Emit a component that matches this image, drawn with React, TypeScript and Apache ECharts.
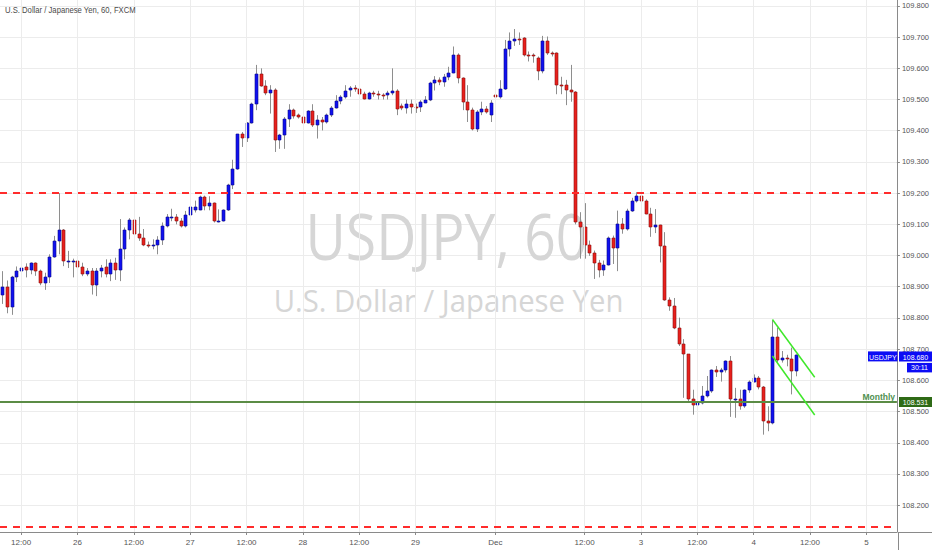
import React, { useEffect, useRef } from "react";
import * as echarts from "echarts";

// ---- Candle data (USDJPY, 60 min, FXCM) ----
const OPEN = [
  108.875, 108.900, 108.835, 108.930, 108.950, 108.963, 108.953, 108.975, 108.950, 108.912,
  108.932, 108.995, 109.047, 109.082, 108.980, 108.982, 108.984, 108.963, 108.940, 108.952,
  108.907, 108.952, 108.962, 108.940, 108.977, 108.955, 109.020, 109.082, 109.114, 109.070,
  109.055, 109.035, 109.030, 109.034, 109.050, 109.095, 109.124, 109.124, 109.111, 109.095,
  109.130, 109.146, 109.146, 109.187, 109.160, 109.167, 109.111, 109.111, 109.145, 109.227,
  109.278, 109.388, 109.378, 109.425, 109.487, 109.582, 109.543, 109.522, 109.532, 109.371,
  109.385, 109.439, 109.468, 109.450, 109.445, 109.425, 109.464, 109.418,
  109.436, 109.428, 109.450, 109.474, 109.495, 109.509, 109.530, 109.536, 109.535, 109.517,
  109.503, 109.522, 109.518, 109.516, 109.514, 109.522, 109.528, 109.478, 109.474, 109.485,
  109.477, 109.476, 109.490, 109.497, 109.552, 109.562, 109.557, 109.571, 109.586, 109.643,
  109.568, 109.493, 109.468, 109.404, 109.460, 109.471, 109.450, 109.514, 109.509, 109.533,
  109.661, 109.689, 109.694, 109.697, 109.643, 109.642, 109.632, 109.593, 109.689, 109.648,
  109.648, 109.546, 109.545, 109.530,
  109.525, 109.107, 109.093, 109.035, 109.007, 108.975, 108.954, 108.971, 109.057, 109.024,
  109.102, 109.084, 109.144, 109.174, 109.190, 109.174, 109.134, 109.091, 109.097, 109.029,
  108.857, 108.839, 108.769, 108.716, 108.684, 108.541, 108.522, 108.528, 108.550, 108.566,
  108.632, 108.628, 108.632, 108.662, 108.539, 108.541, 108.517, 108.568, 108.596, 108.609,
  108.579, 108.471, 108.464, 108.739, 108.664, 108.672, 108.668, 108.629,
];
const CLOSE = [
  108.900, 108.835, 108.930, 108.950, 108.960, 108.953, 108.975, 108.950, 108.912, 108.932,
  108.995, 109.047, 109.082, 108.982, 108.983, 108.984, 108.963, 108.942, 108.952, 108.907,
  108.952, 108.960, 108.940, 108.977, 108.955, 109.020, 109.082, 109.114, 109.070, 109.055,
  109.033, 109.030, 109.034, 109.050, 109.095, 109.124, 109.125, 109.111, 109.095, 109.130,
  109.154, 109.154, 109.187, 109.160, 109.167, 109.111, 109.112, 109.145, 109.227, 109.278,
  109.388, 109.378, 109.425, 109.487, 109.582, 109.543, 109.522, 109.532, 109.371, 109.385,
  109.439, 109.468, 109.447, 109.445, 109.425, 109.464, 109.418, 109.436,
  109.428, 109.450, 109.474, 109.495, 109.509, 109.528, 109.536, 109.535, 109.517, 109.503,
  109.522, 109.517, 109.516, 109.514, 109.522, 109.528, 109.471, 109.474, 109.485, 109.477,
  109.476, 109.492, 109.497, 109.552, 109.562, 109.557, 109.571, 109.586, 109.643, 109.568,
  109.493, 109.468, 109.404, 109.460, 109.471, 109.460, 109.490, 109.509, 109.533, 109.661,
  109.689, 109.694, 109.693, 109.643, 109.642, 109.640, 109.593, 109.689, 109.648, 109.645,
  109.546, 109.545, 109.530, 109.525,
  109.107, 109.093, 109.035, 109.007, 108.975, 108.954, 108.971, 109.057, 109.024, 109.102,
  109.084, 109.144, 109.174, 109.190, 109.174, 109.134, 109.091, 109.097, 109.029, 108.857,
  108.839, 108.769, 108.716, 108.684, 108.539, 108.522, 108.528, 108.550, 108.566, 108.632,
  108.628, 108.633, 108.662, 108.539, 108.541, 108.517, 108.568, 108.596, 108.609, 108.579,
  108.469, 108.464, 108.739, 108.664, 108.672, 108.671, 108.629, 108.680,
];
const HIGH = [
  108.950, 108.920, 108.935, 108.965, 108.970, 108.975, 108.978, 108.978, 108.955, 108.945,
  109.004, 109.063, 109.200, 109.085, 109.015, 108.990, 109.011, 108.977, 108.960, 108.960,
  108.960, 108.970, 108.988, 108.988, 108.993, 109.117, 109.090, 109.120, 109.138, 109.124,
  109.085, 109.045, 109.052, 109.062, 109.106, 109.133, 109.150, 109.133, 109.120, 109.143,
  109.170, 109.176, 109.192, 109.192, 109.190, 109.170, 109.148, 109.148, 109.230, 109.307,
  109.390, 109.396, 109.428, 109.490, 109.611, 109.600, 109.562, 109.546, 109.536, 109.390,
  109.444, 109.485, 109.471, 109.455, 109.450, 109.466, 109.485, 109.450,
  109.444, 109.455, 109.479, 109.514, 109.514, 109.546, 109.543, 109.546, 109.541, 109.525,
  109.525, 109.528, 109.528, 109.520, 109.528, 109.600, 109.533, 109.487, 109.500, 109.500,
  109.487, 109.498, 109.511, 109.557, 109.575, 109.571, 109.582, 109.605, 109.670, 109.648,
  109.571, 109.546, 109.474, 109.466, 109.493, 109.479, 109.498, 109.530, 109.562, 109.691,
  109.715, 109.726, 109.715, 109.700, 109.654, 109.648, 109.638, 109.704, 109.702, 109.654,
  109.651, 109.573, 109.563, 109.611,
  109.527, 109.139, 109.168, 109.048, 109.016, 108.986, 108.984, 109.061, 109.064, 109.144,
  109.120, 109.150, 109.185, 109.203, 109.198, 109.180, 109.153, 109.149, 109.099, 109.075,
  108.866, 108.864, 108.801, 108.732, 108.684, 108.570, 108.555, 108.582, 108.614, 108.635,
  108.646, 108.640, 108.664, 108.678, 108.576, 108.570, 108.571, 108.600, 108.619, 108.614,
  108.582, 108.517, 108.793, 108.769, 108.694, 108.682, 108.705, 108.683,
];
const LOW = [
  108.845, 108.815, 108.810, 108.915, 108.915, 108.930, 108.940, 108.935, 108.905, 108.890,
  108.912, 108.993, 109.004, 108.966, 108.960, 108.930, 108.950, 108.934, 108.934, 108.875,
  108.870, 108.930, 108.930, 108.918, 108.922, 108.918, 108.988, 109.052, 109.047, 109.047,
  109.030, 109.025, 109.020, 109.004, 109.034, 109.090, 109.110, 109.100, 109.090, 109.090,
  109.122, 109.138, 109.145, 109.145, 109.145, 109.106, 109.106, 109.109, 109.143, 109.213,
  109.275, 109.348, 109.364, 109.423, 109.466, 109.541, 109.514, 109.455, 109.332, 109.342,
  109.342, 109.412, 109.439, 109.439, 109.420, 109.423, 109.412, 109.375,
  109.401, 109.423, 109.444, 109.471, 109.485, 109.503, 109.509, 109.525, 109.514, 109.500,
  109.500, 109.509, 109.500, 109.500, 109.500, 109.514, 109.450, 109.466, 109.455, 109.455,
  109.457, 109.460, 109.488, 109.495, 109.529, 109.546, 109.541, 109.562, 109.584, 109.552,
  109.466, 109.428, 109.401, 109.396, 109.450, 109.455, 109.428, 109.488, 109.503, 109.531,
  109.638, 109.672, 109.675, 109.638, 109.622, 109.618, 109.562, 109.584, 109.643, 109.638,
  109.517, 109.517, 109.482, 109.493,
  109.100, 108.990, 108.990, 108.999, 108.925, 108.930, 108.935, 108.968, 108.973, 108.950,
  109.070, 109.080, 109.140, 109.170, 109.167, 109.132, 109.060, 109.072, 108.978, 108.855,
  108.823, 108.764, 108.710, 108.544, 108.528, 108.490, 108.483, 108.523, 108.545, 108.560,
  108.611, 108.596, 108.625, 108.483, 108.480, 108.506, 108.512, 108.560, 108.593, 108.571,
  108.426, 108.437, 108.459, 108.657, 108.657, 108.645, 108.555, 108.613,
];

// ---- Time axis: hourly bars, weekend gap removed ----
const SESSION_STARTS = [Date.UTC(2019, 10, 25, 8), Date.UTC(2019, 11, 1, 17)];
const SESSION_BARS = [105, 86];
const TICK_INDEX = [4, 16, 28, 40, 52, 64, 76, 88, 105, 124, 136, 148, 160, 172, 184];
const TICK_LABELS = ["12:00", "26", "12:00", "27", "12:00", "28", "12:00", "29", "Dec", "12:00", "3", "12:00", "4", "12:00", "5"];

// ---- Levels / drawings ----
const RESISTANCE = 109.2;
const LOWER_LEVEL = 108.125;
const MONTHLY = 108.531;
const LAST_PRICE = 108.68;
const COUNTDOWN = "30:11";
const CHANNEL_UPPER = [[164, 108.795], [173, 108.61]];
const CHANNEL_LOWER = [[164, 108.678], [173, 108.489]];
const Y_MIN = 108.114;
const Y_MAX = 109.819;

const TITLE = "U.S. Dollar / Japanese Yen, 60, FXCM";
const WATERMARK_1 = "USDJPY, 60";
const WATERMARK_2 = "U.S. Dollar / Japanese Yen";
const SYMBOL = "USDJPY";

const SMALL_FONT = "'Liberation Sans Narrow', 'Liberation Sans', Arial, sans-serif";

function buildCategories(): string[] {
  const out: string[] = [];
  SESSION_STARTS.forEach((start, s) => {
    for (let h = 0; h < SESSION_BARS[s]; h++) {
      const d = new Date(start + h * 3600000);
      const mm = String(d.getUTCMonth() + 1).padStart(2, "0");
      const dd = String(d.getUTCDate()).padStart(2, "0");
      const hh = String(d.getUTCHours()).padStart(2, "0");
      out.push(`${mm}-${dd} ${hh}:00`);
    }
  });
  return out;
}

function fitScale(text: string, font: string, target: number): number {
  const c = document.createElement("canvas").getContext("2d");
  if (!c) return 1;
  c.font = font;
  const w = c.measureText(text).width;
  return w > 0 ? target / w : 1;
}

const W = 932;
const H = 550;
const GRID = { left: 0, right: 34, top: 0, bottom: 18 };

export default function App() {
  const ref = useRef<HTMLDivElement>(null);

  useEffect(() => {
    if (!ref.current) return;
    const chart = echarts.init(ref.current, null, { renderer: "svg" });
    const categories = buildCategories();
    const candleData = OPEN.map((o, i) => [i, o, CLOSE[i], LOW[i], HIGH[i]]);
    const tickSet = new Set(TICK_INDEX);
    const showTick = (idx: number) => tickSet.has(idx);

    const option: any = {
      animation: false,
      backgroundColor: "#ffffff",
      grid: { ...GRID, containLabel: false },
      xAxis: {
        type: "category",
        data: categories,
        boundaryGap: true,
        axisLine: { show: true, lineStyle: { color: "#8a8a8a", width: 1 } },
        axisTick: { show: true, alignWithLabel: true, interval: showTick, length: 3, lineStyle: { color: "#8a8a8a" } },
        axisLabel: {
          interval: showTick,
          formatter: (_v: string, idx: number) => {
            const k = TICK_INDEX.indexOf(idx);
            return k >= 0 ? TICK_LABELS[k] : "";
          },
          fontSize: 8,
          color: "#555555",
          margin: 6,
          fontFamily: SMALL_FONT,
        },
        splitLine: { show: false },
      },
      yAxis: {
        type: "value",
        position: "right",
        min: Y_MIN,
        max: Y_MAX,
        splitNumber: 17,
        minInterval: 0.1,
        maxInterval: 0.1,
        axisLine: { show: true, lineStyle: { color: "#8a8a8a", width: 1 } },
        axisTick: { show: true, length: 3, lineStyle: { color: "#8a8a8a" } },
        axisLabel: {
          showMinLabel: false,
          showMaxLabel: false,
          formatter: (v: number) => v.toFixed(3),
          fontSize: 7.5,
          lineHeight: 7,
          color: "#555555",
          margin: 5,
          fontFamily: SMALL_FONT,
        },
        splitLine: { show: true, showMinLine: false, showMaxLine: false, lineStyle: { color: "#ececec", width: 1 } },
      },
      series: [
        {
          // vertical grid lines at time ticks
          type: "line",
          data: CLOSE,
          z: 1,
          silent: true,
          showSymbol: false,
          symbol: "none",
          lineStyle: { opacity: 0, width: 0 },
          markLine: {
            silent: true,
            symbol: ["none", "none"],
            label: { show: false },
            lineStyle: { color: "#ececec", width: 1, type: "solid" },
            data: TICK_INDEX.map((i) => ({ xAxis: categories[i] })),
          },
        },
        {
          type: "custom",
          z: 3,
          silent: true,
          dimensions: ["idx", "open", "close", "low", "high"],
          encode: { x: 0, y: [1, 2, 3, 4] },
          data: candleData,
          renderItem: (_params: any, api: any) => {
            const i = api.value(0);
            const o = api.value(1);
            const c = api.value(2);
            const l = api.value(3);
            const h = api.value(4);
            const pO = api.coord([i, o]);
            const pC = api.coord([i, c]);
            const pL = api.coord([i, l]);
            const pH = api.coord([i, h]);
            const cx = Math.round(pO[0]);
            const up = c >= o;
            const top = Math.round(Math.min(pO[1], pC[1]));
            const bot = Math.round(Math.max(pO[1], pC[1]));
            const bh = Math.max(bot - top, 1);
            return {
              type: "group",
              children: [
                {
                  type: "line",
                  shape: { x1: cx + 0.5, y1: pH[1], x2: cx + 0.5, y2: pL[1] },
                  style: { stroke: "#8e8e8e", lineWidth: 1 },
                },
                {
                  type: "rect",
                  shape: { x: cx - 1, y: top, width: 3, height: bh },
                  style: {
                    fill: up ? "#1010f0" : "#e8201c",
                    stroke: up ? "#0a0a8c" : "#8a1010",
                    lineWidth: 0.6,
                  },
                },
              ],
            };
          },
        },
        {
          // drawings: levels and channel
          type: "line",
          data: CLOSE,
          z: 5,
          silent: true,
          showSymbol: false,
          symbol: "none",
          lineStyle: { opacity: 0, width: 0 },
          markLine: {
            silent: true,
            symbol: ["none", "none"],
            label: { show: false },
            data: [
              { yAxis: RESISTANCE, lineStyle: { color: "#ff2b2b", width: 2, type: [7, 6] } },
              { yAxis: LOWER_LEVEL, lineStyle: { color: "#ff2b2b", width: 2, type: [7, 6] } },
              { yAxis: MONTHLY, lineStyle: { color: "#5b8c45", width: 2, type: "solid" } },
              [
                { coord: [categories[CHANNEL_UPPER[0][0]], CHANNEL_UPPER[0][1]], lineStyle: { color: "#3fe82a", width: 1.5, type: "solid" } },
                { coord: [categories[CHANNEL_UPPER[1][0]], CHANNEL_UPPER[1][1]] },
              ],
              [
                { coord: [categories[CHANNEL_LOWER[0][0]], CHANNEL_LOWER[0][1]], lineStyle: { color: "#3fe82a", width: 1.5, type: "solid" } },
                { coord: [categories[CHANNEL_LOWER[1][0]], CHANNEL_LOWER[1][1]] },
              ],
            ],
          },
        },
      ],
    };
    chart.setOption(option);

    // Overlays positioned through the axis scale
    const plotRight = W - GRID.right;
    const plotBottom = H - GRID.bottom;
    const yLast = chart.convertToPixel({ yAxisIndex: 0 }, LAST_PRICE) as number;
    const yMon = chart.convertToPixel({ yAxisIndex: 0 }, MONTHLY) as number;

    const wm1Font = "64px 'Open Sans'";
    const wm2Font = "31px 'Open Sans'";
    const titleFont = "8.5px 'Liberation Sans'";
    const wm1Scale = fitScale(WATERMARK_1, wm1Font, 282);
    const wm2Scale = fitScale(WATERMARK_2, wm2Font, 350);
    const titleScale = fitScale(TITLE, titleFont, 131);

    const badgeText = (x: number, y: number, text: string, extra: any = {}) => ({
      type: "text",
      x,
      y,
      z: 21,
      style: {
        text,
        fill: "#ffffff",
        fontSize: 7,
        lineHeight: 7,
        fontFamily: SMALL_FONT,
        align: "center",
        verticalAlign: "middle",
        ...extra,
      },
    });

    chart.setOption({
      graphic: [
        {
          type: "text",
          x: 5,
          y: 10.5,
          scaleX: titleScale,
          z: 20,
          style: { text: TITLE, fill: "#4a4a4a", fontSize: 8.5, fontFamily: "'Liberation Sans'", align: "left", verticalAlign: "middle" },
        },
        {
          type: "text",
          x: 446.5,
          y: 235,
          scaleX: wm1Scale,
          z: 2,
          silent: true,
          style: { text: WATERMARK_1, fill: "#d6d6d6", fontSize: 64, fontFamily: "'Open Sans'", align: "center", verticalAlign: "middle" },
        },
        {
          type: "text",
          x: 448.5,
          y: 300,
          scaleX: wm2Scale,
          z: 2,
          silent: true,
          style: { text: WATERMARK_2, fill: "#d6d6d6", fontSize: 31, fontFamily: "'Open Sans'", align: "center", verticalAlign: "middle" },
        },
        // axis line extensions
        { type: "line", z: 20, shape: { x1: plotRight + 0.5, y1: plotBottom, x2: plotRight + 0.5, y2: H }, style: { stroke: "#8a8a8a", lineWidth: 1 } },
        { type: "line", z: 20, shape: { x1: plotRight, y1: plotBottom + 0.5, x2: W, y2: plotBottom + 0.5 }, style: { stroke: "#8a8a8a", lineWidth: 1 } },
        // last price badges
        { type: "rect", z: 20, shape: { x: plotRight - 30, y: yLast - 4, width: 29.5, height: 10 }, style: { fill: "#0c0cf5" } },
        badgeText(plotRight - 15.2, yLast + 2, SYMBOL),
        { type: "rect", z: 20, shape: { x: plotRight + 1, y: yLast - 4, width: 33, height: 10 }, style: { fill: "#0c0cf5" } },
        badgeText(plotRight + 17.5, yLast + 2, LAST_PRICE.toFixed(3)),
        { type: "rect", z: 20, shape: { x: plotRight + 9, y: yLast + 7.5, width: 25, height: 9.5 }, style: { fill: "#0c0cf5" } },
        badgeText(plotRight + 21.5, yLast + 12.4, COUNTDOWN),
        // monthly level badge
        { type: "rect", z: 20, shape: { x: plotRight + 1, y: yMon - 5, width: 33, height: 10 }, style: { fill: "#2e6a16" } },
        badgeText(plotRight + 17.5, yMon + 0.2, MONTHLY.toFixed(3)),
        {
          type: "text",
          x: plotRight - 3,
          y: yMon - 5,
          z: 21,
          style: { text: "Monthly", fill: "#4f8f4f", fontSize: 8.5, fontWeight: "bold", fontFamily: "'Liberation Sans'", align: "right", verticalAlign: "middle" },
        },
      ],
    });

    return () => {
      chart.dispose();
    };
  }, []);

  return (
    <div style={{ position: "fixed", left: 0, top: 0, width: W, height: H, overflow: "hidden", background: "#fff" }}>
      <div ref={ref} style={{ width: W, height: H }} />
    </div>
  );
}
